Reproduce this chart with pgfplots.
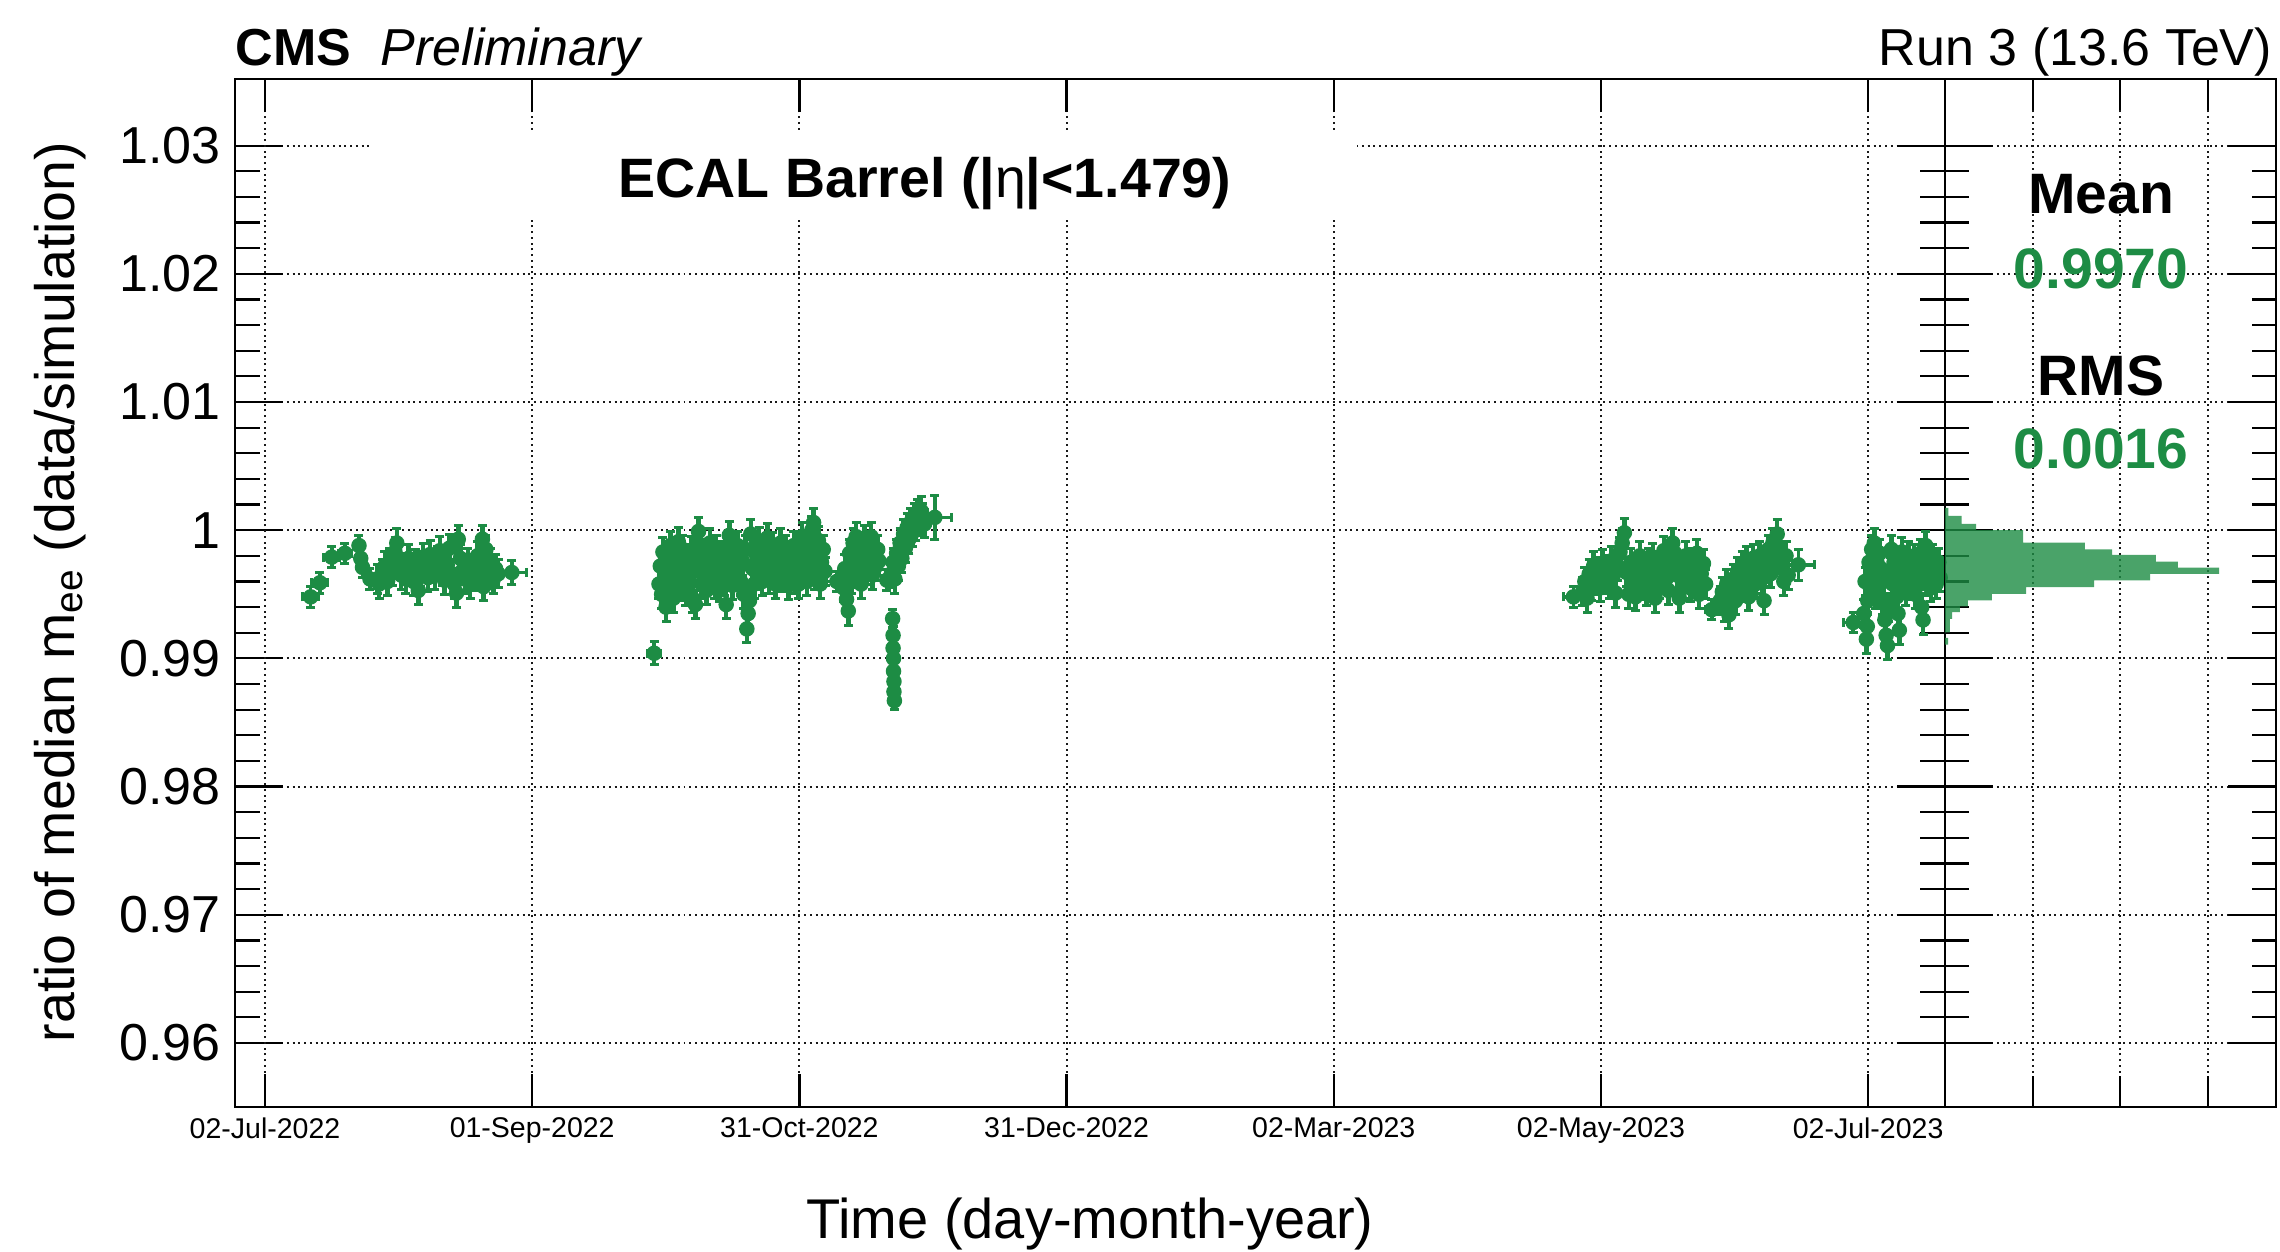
\documentclass[border=0pt]{standalone}
\usepackage{pgfplots}
\pgfplotsset{compat=1.18}
\usepackage{fontspec}
\setmainfont{Liberation Sans}
\definecolor{cmsgreen}{RGB}{29,140,68}
\pgfplotsset{
  common/.style={scale only axis, anchor=south west,
    axis line style={black, line width=0.45pt},
    tick style={black, line width=0.45pt},
    major grid style={black!90, line width=0.4pt, dash pattern=on 0.4pt off 0.75pt},
    ymin=0.955, ymax=1.0352},
  ypart/.style={ytick={0.96,0.97,0.98,0.99,1.00,1.01,1.02,1.03}, minor y tick num=4, ymajorgrids, xtick=\empty},
  datastyle/.style={only marks, mark=*, mark size=1.35pt, color=cmsgreen},
}
\begin{document}
\begin{tikzpicture}
\path[use as bounding box] (0,0) rectangle (456pt,250.2pt);
% ---------- main pad: y ticks and grid ----------
\begin{axis}[common, ypart, at={(47pt,28.8pt)}, width=342pt, height=205.6pt,
  xmin=-6.83, xmax=382.5, major tick length=9.6pt, minor tick length=5pt,
  yticklabels={0.96,0.97,0.98,0.99,1,1.01,1.02,1.03},
  yticklabel style={font=\fontsize{10.4}{12}\selectfont, inner sep=0pt, xshift=-2.7pt}]
\end{axis}
% ---------- main pad: x ticks, grid and data ----------
\begin{axis}[common, at={(47pt,28.8pt)}, width=342pt, height=205.6pt,
  xmin=-6.83, xmax=382.5, ytick=\empty,
  xtick={0,60.833,121.667,182.5,243.333,304.167,365},
  xticklabels={02-Jul-2022,01-Sep-2022,31-Oct-2022,31-Dec-2022,02-Mar-2023,02-May-2023,02-Jul-2023},
  xticklabel style={font=\fontsize{5.7}{7}\selectfont, inner sep=0pt, yshift=-2pt},
  xmajorgrids, major tick length=6.6pt]
\fill[white] (axis cs:24.1,1.02434) rectangle (axis cs:248.6,1.03105);
\addplot[datastyle,
  error bars/.cd, x dir=both, x fixed=0.7, y dir=both, y fixed=0.0011,
  error bar style={line width=0.9pt, cmsgreen},
  error mark options={rotate=90, mark size=0.9pt, line width=0.6pt, cmsgreen}]
table {
x y
25.6 0.9962
26.0 0.9958
26.8 0.9966
27.3 0.9972
27.9 0.9960
28.4 0.9975
29.0 0.9968
29.6 0.9983
30.0 0.9990
30.5 0.9976
31.0 0.9965
31.6 0.9971
32.1 0.9962
32.7 0.9978
33.2 0.9969
33.8 0.9960
34.3 0.9974
34.9 0.9953
35.4 0.9967
36.0 0.9979
36.5 0.9972
37.1 0.9963
37.6 0.9981
38.2 0.9970
38.7 0.9965
39.3 0.9976
39.8 0.9984
40.4 0.9968
40.9 0.9961
41.5 0.9973
42.0 0.9986
42.6 0.9966
43.1 0.9958
43.6 0.9951
44.0 0.9993
44.5 0.9978
45.1 0.9969
45.6 0.9962
46.2 0.9975
46.7 0.9958
47.3 0.9970
47.8 0.9964
48.4 0.9980
49.0 0.9973
49.5 0.9993
49.8 0.9956
50.3 0.9985
50.9 0.9967
51.4 0.9975
52.0 0.9962
52.5 0.9970
53.1 0.9966
89.7 0.9958
90.0 0.9972
90.3 0.9950
90.6 0.9983
91.0 0.9965
91.3 0.9940
91.6 0.9977
92.0 0.9958
92.3 0.9988
92.7 0.9969
93.0 0.9947
93.4 0.9980
93.7 0.9962
94.1 0.9991
94.4 0.9974
94.8 0.9956
95.1 0.9985
95.5 0.9967
95.8 0.9952
96.2 0.9978
96.6 0.9960
97.0 0.9984
97.3 0.9947
97.7 0.9970
98.0 0.9942
98.4 0.9989
98.7 0.9999
99.1 0.9975
99.4 0.9958
99.8 0.9982
100.2 0.9966
100.5 0.9953
100.9 0.9978
101.3 0.9990
101.6 0.9962
102.0 0.9974
102.4 0.9958
102.7 0.9985
103.1 0.9968
103.5 0.9955
103.8 0.9980
104.2 0.9972
104.6 0.9960
105.0 0.9942
105.3 0.9986
105.7 0.9996
106.1 0.9970
106.4 0.9957
106.8 0.9979
107.2 0.9964
107.6 0.9988
107.9 0.9973
108.3 0.9960
108.7 0.9976
109.0 0.9950
109.4 0.9985
109.7 0.9923
110.0 0.9935
110.3 0.9945
110.6 0.9997
111.0 0.9970
111.4 0.9958
111.7 0.9982
112.1 0.9965
112.5 0.9991
112.9 0.9975
113.2 0.9960
113.6 0.9984
114.0 0.9970
114.4 0.9994
114.7 0.9962
115.1 0.9978
115.5 0.9987
115.9 0.9967
116.2 0.9958
116.6 0.9981
117.0 0.9972
117.4 0.9990
117.7 0.9963
118.1 0.9977
118.5 0.9985
118.9 0.9966
119.2 0.9957
119.6 0.9980
120.0 0.9971
120.4 0.9988
120.8 0.9962
121.1 0.9976
121.5 0.9958
121.9 0.9983
122.3 0.9995
122.6 0.9969
123.0 0.9978
123.4 0.9960
123.8 0.9987
124.1 0.9973
124.5 1.0000
124.9 1.0006
125.2 0.9965
125.6 0.9981
126.0 0.9992
126.4 0.9958
126.7 0.9975
127.1 0.9985
127.5 0.9968
131.7 0.9955
132.0 0.9970
132.4 0.9946
132.8 0.9937
133.1 0.9982
133.5 0.9962
133.9 0.9990
134.2 0.9975
134.6 0.9995
135.0 0.9966
135.4 0.9984
135.7 0.9958
136.1 0.9978
136.5 0.9993
136.9 0.9969
137.2 0.9983
137.6 0.9974
138.0 0.9995
138.3 0.9965
138.7 0.9980
139.1 0.9972
139.5 0.9985
139.8 0.9976
142.6 0.9966
143.0 0.9975
143.4 0.9962
143.8 0.9982
144.2 0.9972
144.6 0.9990
145.0 0.9978
145.4 0.9997
145.8 0.9986
146.2 1.0002
146.6 0.9993
147.0 1.0006
147.4 0.9998
147.8 1.0010
148.2 1.0003
148.6 1.0013
149.0 1.0007
149.4 1.0015
149.8 1.0010
150.2 1.0005
300.0 0.9952
300.5 0.9960
301.0 0.9947
301.5 0.9966
302.0 0.9956
302.5 0.9972
303.0 0.9961
303.5 0.9968
304.0 0.9955
304.5 0.9974
305.0 0.9962
305.5 0.9969
306.0 0.9958
306.5 0.9976
307.0 0.9965
307.5 0.9951
308.0 0.9972
308.5 0.9983
309.0 0.9990
309.5 0.9998
310.0 0.9967
310.5 0.9950
311.0 0.9975
311.5 0.9961
312.0 0.9948
312.5 0.9970
313.0 0.9980
313.5 0.9957
314.0 0.9966
314.5 0.9952
315.0 0.9975
315.5 0.9962
316.0 0.9979
316.5 0.9947
317.0 0.9968
317.5 0.9958
318.0 0.9973
318.5 0.9984
319.0 0.9962
319.5 0.9953
320.0 0.9977
320.5 0.9990
321.0 0.9982
321.5 0.9965
322.0 0.9947
322.5 0.9970
323.0 0.9958
323.5 0.9980
324.0 0.9968
324.5 0.9955
325.0 0.9975
325.5 0.9962
326.0 0.9982
326.5 0.9950
327.0 0.9966
327.5 0.9974
328.0 0.9958
331.3 0.9945
331.8 0.9952
332.3 0.9940
332.8 0.9958
333.3 0.9934
333.8 0.9950
334.3 0.9962
334.8 0.9945
335.3 0.9968
335.8 0.9955
336.3 0.9972
336.8 0.9960
337.3 0.9976
337.8 0.9948
338.3 0.9966
338.8 0.9978
339.3 0.9958
339.8 0.9970
340.3 0.9980
340.8 0.9962
341.3 0.9945
341.8 0.9974
342.3 0.9985
342.8 0.9966
343.3 0.9990
343.8 0.9978
344.3 0.9997
344.8 0.9985
345.3 0.9970
345.8 0.9960
346.3 0.9980
346.8 0.9965
364.0 0.9935
364.3 0.9960
364.6 0.9915
364.8 0.9925
364.9 0.9945
365.2 0.9975
365.5 0.9955
365.8 0.9985
366.1 0.9965
366.4 0.9990
366.7 0.9950
367.0 0.9975
367.3 0.9962
367.6 0.9982
367.9 0.9970
368.2 0.9945
368.5 0.9960
368.8 0.9930
369.1 0.9918
369.4 0.9910
369.7 0.9940
370.0 0.9968
370.3 0.9985
370.6 0.9958
370.9 0.9975
371.2 0.9962
371.5 0.9948
371.8 0.9935
372.1 0.9922
372.4 0.9970
372.7 0.9983
373.0 0.9960
373.3 0.9975
373.6 0.9952
373.9 0.9968
374.2 0.9980
374.5 0.9957
374.8 0.9972
375.1 0.9962
375.4 0.9978
375.7 0.9950
376.0 0.9966
376.3 0.9974
376.6 0.9958
376.9 0.9982
377.2 0.9940
377.5 0.9930
377.8 0.9965
378.1 0.9988
378.4 0.9975
378.7 0.9960
379.0 0.9970
379.3 0.9955
379.6 0.9978
379.9 0.9962
380.2 0.9972
380.5 0.9958
380.8 0.9968
381.1 0.9975
381.4 0.9963
};
\addplot[datastyle,
  error bars/.cd, x dir=both, x explicit, y dir=both, y explicit,
  error bar style={line width=0.7pt, cmsgreen},
  error mark options={rotate=90, mark size=0.9pt, line width=0.6pt, cmsgreen}]
table[x=x, y=y, x error=ex, y error=ey] {
x y ex ey
10.4 0.9948 1.8 0.0008
12.5 0.9959 1.8 0.0008
15.2 0.9979 1.8 0.0008
18.2 0.9982 1.5 0.0008
21.4 0.9988 1.0 0.0008
21.8 0.9978 1.0 0.0008
22.2 0.9971 1.0 0.0008
23.9 0.9962 1.0 0.0008
56.2 0.9967 3.4 0.0009
88.6 0.9904 1.5 0.0009
130.2 0.9960 2.3 0.0008
141.6 0.9961 1.0 0.0008
142.9 0.9931 0.6 0.0007
143.0 0.9918 0.6 0.0007
143.0 0.9908 0.6 0.0007
143.1 0.9900 0.6 0.0007
143.1 0.9890 0.6 0.0007
143.2 0.9882 0.6 0.0007
143.2 0.9874 0.6 0.0007
143.3 0.9867 0.6 0.0007
152.5 1.0010 3.8 0.0017
297.9 0.9948 2.3 0.0008
329.4 0.9938 1.5 0.0008
349.1 0.9973 3.6 0.0012
361.6 0.9928 2.3 0.0008
};
\end{axis}
% ---------- histogram pad: y ticks and grid ----------
\begin{axis}[common, ypart, at={(389pt,28.8pt)}, width=66.2pt, height=205.6pt,
  xmin=0, xmax=75.5, major tick length=9.5pt, minor tick length=4.8pt,
  yticklabels={}]
\end{axis}
% ---------- histogram pad: x ticks, grid and histogram ----------
\begin{axis}[common, at={(389pt,28.8pt)}, width=66.2pt, height=205.6pt,
  xmin=0, xmax=75.5, ytick=\empty, xtick={20,40,60}, xticklabels={},
  xmajorgrids, major tick length=6.2pt]
\addplot[xbar interval, fill=cmsgreen, fill opacity=0.8, draw=none] coordinates {
(0.7,0.991073) (0,0.991590) (1.1,0.992036) (1.6,0.993078) (3.4,0.993602)
(5.2,0.994048) (10.7,0.994518) (18.5,0.995035) (34.0,0.995560) (46.8,0.996085)
(62.5,0.996601) (53.1,0.997071) (48.1,0.997541) (38.1,0.998066) (31.9,0.998512)
(17.8,0.999029) (7.07,1.000000) (3.81,1.000493) (0.75,1.001120) (0,1.001746)
};
\end{axis}
% ---------- texts ----------
\node[anchor=base west, inner sep=0pt, font=\fontsize{10.4}{12}\selectfont] at (47pt,237.2pt) {\textbf{CMS}\hspace{5.8pt}\textit{Preliminary}};
\node[anchor=base east, inner sep=0pt, font=\fontsize{10.4}{12}\selectfont] at (454.6pt,237.2pt) {Run 3 (13.6 TeV)};
\node[anchor=base, inner sep=0pt, font=\fontsize{11.1}{13}\selectfont\bfseries] at (185pt,210.8pt) {ECAL Barrel (|\textmd{η}|<1.479)};
\node[anchor=base, inner sep=0pt, font=\fontsize{11.4}{13}\selectfont\bfseries] at (420.2pt,207.6pt) {Mean};
\node[anchor=base, inner sep=0pt, font=\fontsize{11.4}{13}\selectfont\bfseries, text=cmsgreen] at (420.2pt,192.6pt) {0.9970};
\node[anchor=base, inner sep=0pt, font=\fontsize{11.4}{13}\selectfont\bfseries] at (420.2pt,171.2pt) {RMS};
\node[anchor=base, inner sep=0pt, font=\fontsize{11.4}{13}\selectfont\bfseries, text=cmsgreen] at (420.2pt,156.6pt) {0.0016};
\node[anchor=base, inner sep=0pt, font=\fontsize{11.2}{13}\selectfont] at (218pt,2.6pt) {Time (day-month-year)};
\node[anchor=center, rotate=90, inner sep=0pt, font=\fontsize{11.1}{13}\selectfont] at (12pt,131.8pt) {ratio of median m\textsubscript{ee} (data/simulation)};
\end{tikzpicture}
\end{document}
